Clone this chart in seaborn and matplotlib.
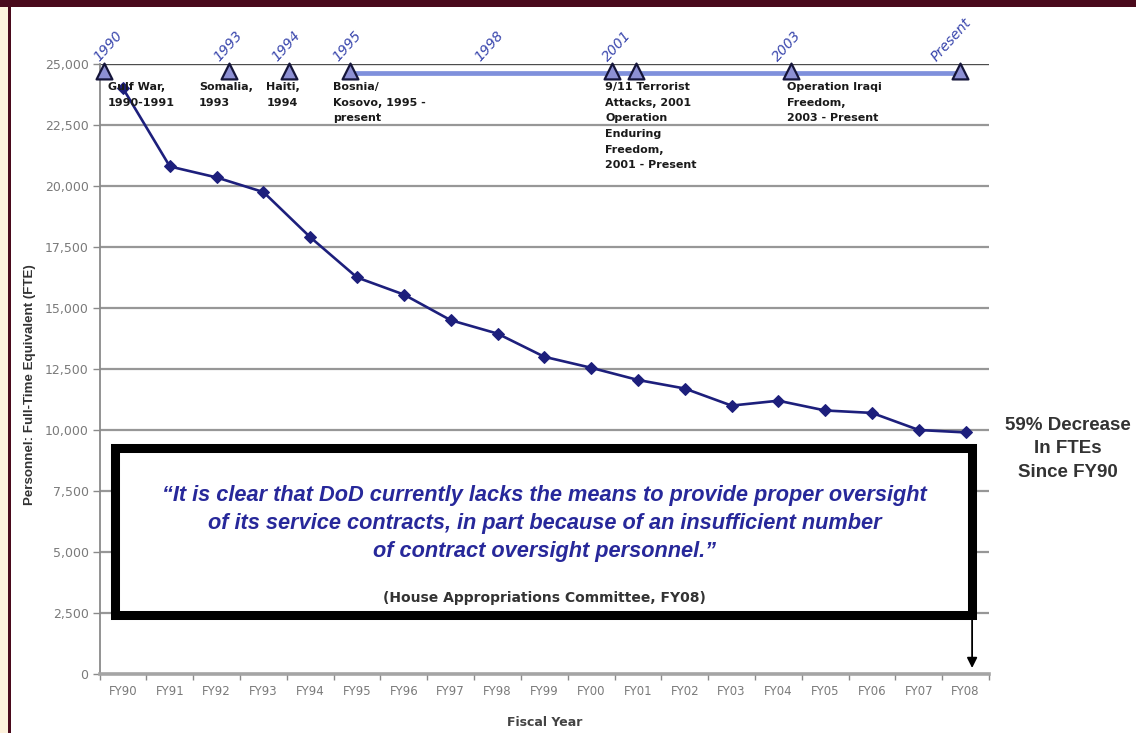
import numpy as np
import pandas as pd
import matplotlib
matplotlib.use("Agg")
import matplotlib.pyplot as plt
from matplotlib.patches import Rectangle
import seaborn as sns

# ---- data -------------------------------------------------------------
fiscal_years = ["FY90", "FY91", "FY92", "FY93", "FY94", "FY95", "FY96", "FY97",
                "FY98", "FY99", "FY00", "FY01", "FY02", "FY03", "FY04", "FY05",
                "FY06", "FY07", "FY08"]
fte = [24000, 20800, 20350, 19750, 17900, 16250, 15550, 14500, 13950, 13000,
       12550, 12050, 11700, 11000, 11200, 10800, 10700, 10000, 9900]

y_ticks = [0, 2500, 5000, 7500, 10000, 12500, 15000, 17500, 20000, 22500, 25000]

# contingency timeline (positions on the fiscal-year axis)
event_marker_pos = [-0.41, 2.26, 3.55, 4.85, 10.45, 10.96, 14.27, 17.88]
timeline_span = [4.85, 17.88]
year_labels = ["1990", "1993", "1994", "1995", "1998", "2001", "2003", "Present"]
year_label_pos = [-0.5, 2.05, 3.3, 4.6, 7.63, 10.36, 14.0, 17.38]
event_texts = ["Gulf War,\n1990-1991", "Somalia,\n1993", "Haiti,\n1994",
               "Bosnia/\nKosovo, 1995 -\npresent",
               "9/11 Terrorist\nAttacks, 2001\nOperation\nEnduring\nFreedom,\n2001 - Present",
               "Operation Iraqi\nFreedom,\n2003 - Present"]
event_text_pos = [-0.32, 1.62, 3.06, 4.49, 10.3, 14.19]

quote_lines = ["\u201cIt is clear that DoD currently lacks the means to provide proper oversight",
               "of its service contracts, in part because of an insufficient number",
               "of contract oversight personnel.\u201d"]
quote_source = "(House Appropriations Committee, FY08)"
decrease_note = "59% Decrease\nIn FTEs\nSince FY90"

# ---- styling ----------------------------------------------------------
sns.set_theme(style="white")
plt.rcParams["font.family"] = ["DejaVu Sans"]

NAVY = "#1d1f7c"
GRID = "#979797"
TICK_TXT = "#7a7a7a"
MAROON = "#4a0a1c"

fig = plt.figure(figsize=(11.36, 7.33), dpi=100)
fig.patch.set_facecolor("white")

# frame decoration: top band and left edge
fig.patches.append(Rectangle((0, 0), 8 / 1136, 1, transform=fig.transFigure,
                             facecolor="#fdf2dc", edgecolor="none", zorder=0))
fig.patches.append(Rectangle((8 / 1136, 0), 3 / 1136, 1, transform=fig.transFigure,
                             facecolor=MAROON, edgecolor="none", zorder=0))
fig.patches.append(Rectangle((0, 1 - 7 / 733), 1, 7 / 733, transform=fig.transFigure,
                             facecolor=MAROON, edgecolor="none", zorder=0))

ax = fig.add_axes([0.0877, 0.0805, 0.7829, 0.8322])
ax.set_facecolor("white")

df = pd.DataFrame({"pos": np.arange(len(fiscal_years)), "FTE": fte,
                   "Fiscal Year": fiscal_years})
sns.lineplot(data=df, x="pos", y="FTE", ax=ax, color=NAVY, linewidth=1.9,
             marker="D", markersize=6, markeredgecolor=NAVY, zorder=5)

# axes limits / ticks
ax.set_xlim(-0.5, len(fiscal_years) - 0.5)
ax.set_ylim(0, 25000)
ax.set_yticks(y_ticks)
ax.set_yticklabels([f"{v:,}" for v in y_ticks], color=TICK_TXT, fontsize=9)
ax.set_xticks(np.arange(-0.5, len(fiscal_years), 1.0))
ax.set_xticklabels([])
ax.set_xticks(np.arange(len(fiscal_years)), minor=True)
ax.set_xticklabels(fiscal_years, minor=True, color=TICK_TXT, fontsize=8.5)
ax.tick_params(axis="x", which="major", direction="out", length=4, width=1,
               color="#8a8a8a", bottom=True)
ax.tick_params(axis="x", which="minor", length=0, pad=8)
ax.tick_params(axis="y", direction="out", length=5, width=1, color="#8a8a8a",
               left=True, pad=3)

ax.yaxis.grid(True, color=GRID, linewidth=1.6)
ax.xaxis.grid(False)
gl = ax.get_ygridlines()
gl[-1].set_color("#4d4d4d")
gl[-1].set_linewidth(1.0)
ax.set_axisbelow(True)

for s in ["top", "right"]:
    ax.spines[s].set_visible(False)
ax.spines["left"].set_color("#8a8a8a")
ax.spines["left"].set_linewidth(1.3)
ax.spines["bottom"].set_color("#a5a5a5")
ax.spines["bottom"].set_linewidth(2.6)

ax.set_xlabel("Fiscal Year", fontsize=9, fontweight="bold", color="#444444",
              labelpad=13)
ax.set_ylabel("Personnel: Full-Time Equivalent (FTE)", fontsize=9.6,
              fontweight="bold", color="#333333", family="Liberation Sans")
ax.yaxis.set_label_coords(-0.071, 0.475)

# ---- timeline ---------------------------------------------------------
ax.plot(timeline_span, [24630, 24630], color="#7f90dc", linewidth=3.4,
        solid_capstyle="butt", zorder=6, clip_on=False)
tri = pd.DataFrame({"pos": event_marker_pos,
                    "y": [24730] * len(event_marker_pos)})
sns.scatterplot(data=tri, x="pos", y="y", ax=ax, marker="^", s=130,
                color="#8d90d4", edgecolor="#15153a", linewidth=1.6,
                zorder=7, clip_on=False, legend=False)

for lbl, xp in zip(year_labels, year_label_pos):
    ax.text(xp, 25080, lbl, rotation=48, rotation_mode="anchor", ha="left",
            va="baseline", fontsize=10, style="italic", color="#3a47ad",
            zorder=8, clip_on=False)

for txt, xp in zip(event_texts, event_text_pos):
    ax.text(xp, 24250, txt, ha="left", va="top", fontsize=8,
            fontweight="bold", color="#1a1a1a", linespacing=1.7, zorder=8)

# ---- quotation box ----------------------------------------------------
box = Rectangle((0.0173, 0.0967), 0.981 - 0.0173, 0.3705 - 0.0967,
                transform=ax.transAxes, facecolor="white", edgecolor="black",
                linewidth=6.5, zorder=4)
ax.add_patch(box)

quote_y = [0.2934, 0.2459, 0.2000]
for line, qy in zip(quote_lines, quote_y):
    ax.text(0.5005, qy, line, transform=ax.transAxes, ha="center", va="center",
            fontsize=15.7, fontweight="bold", style="italic", color="#27289a",
            family="Liberation Sans", zorder=6)
ax.text(0.5, 0.1246, quote_source, transform=ax.transAxes, ha="center",
        va="center", fontsize=10, fontweight="bold", color="#333333", zorder=6)

ax.annotate("", xy=(0.981, 0.0098), xytext=(0.981, 0.0967),
            xycoords="axes fraction", textcoords="axes fraction",
            arrowprops=dict(arrowstyle="-|>", color="black", lw=1.3,
                            mutation_scale=15, shrinkA=0, shrinkB=0),
            zorder=6)

fig.text(0.940, 0.3875, decrease_note, ha="center", va="center", fontsize=13.5,
         fontweight="bold", color="#333333", family="Liberation Sans",
         linespacing=1.5)

fig.savefig("out.png", dpi=100)
